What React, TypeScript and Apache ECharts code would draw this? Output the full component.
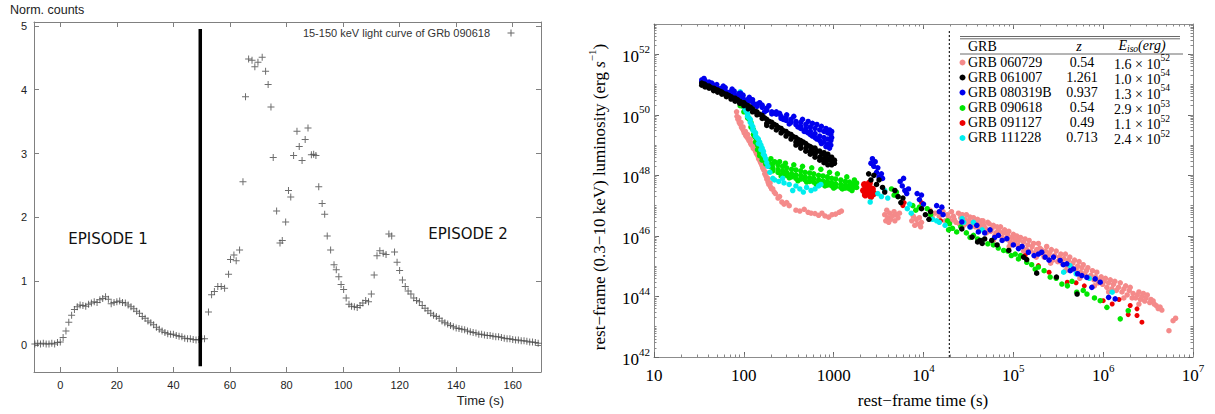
import React, { useEffect, useRef } from "react";
import * as echarts from "echarts";

// ---------------- Left panel: 15-150 keV light curve of GRB 090618 ----------------
// [time (s), normalized counts]
const lightCurve: number[][] = [
  [-9, 0.02], [-8, 0.03], [-7, 0.02], [-6, 0.03], [-5, 0.02], [-4, 0.02], [-3, 0.03], [-2, 0.02], [-1, 0.04],
  [0, 0.05], [1, 0.12], [2, 0.22], [3, 0.36], [4, 0.47], [5, 0.56], [6, 0.6], [7, 0.63], [8, 0.62], [9, 0.61],
  [10, 0.64], [11, 0.66], [12, 0.68], [13, 0.67], [14, 0.71], [15, 0.73], [16, 0.76], [17, 0.72], [18, 0.65],
  [19, 0.67], [20, 0.68], [21, 0.69], [22, 0.67], [23, 0.66], [24, 0.63], [25, 0.6], [26, 0.57], [27, 0.53],
  [28, 0.5], [29, 0.45], [30, 0.42], [31, 0.38], [32, 0.35], [33, 0.32], [34, 0.28], [35, 0.25], [36, 0.22],
  [37, 0.2], [38, 0.18], [39, 0.17], [40, 0.17], [41, 0.15], [42, 0.14], [43, 0.13], [44, 0.11], [45, 0.1],
  [46, 0.1], [47, 0.09], [48, 0.08], [49, 0.09], [50, 0.1], [51, 0.1],
  [52.4, 0.52], [53.5, 0.79], [54.5, 0.84], [55.7, 0.92], [56.9, 0.92], [58.1, 0.89], [59.5, 1.11], [60.2, 1.34],
  [61.4, 1.41], [62.2, 1.32], [63.4, 1.49], [64.6, 2.56], [65.5, 3.89], [66.6, 4.48], [67.8, 4.46], [68.8, 4.36],
  [69.9, 4.43], [71.4, 4.51], [72.6, 4.29], [73.5, 4.08], [74.5, 3.73], [75.3, 2.94], [76.5, 2.1], [77.7, 1.6],
  [78.5, 1.64], [79.7, 1.93], [80.7, 2.42], [81.5, 2.32], [82.5, 2.97], [83.7, 3.35], [84.5, 3.11], [85.5, 2.89],
  [86.6, 3.22], [87.6, 3.4], [88.8, 2.98], [89.6, 2.99], [90.4, 2.97], [91.4, 2.48], [92.6, 2.22], [93.5, 2.05],
  [94.4, 1.71], [95.6, 1.49], [96.8, 1.26], [97.6, 1.18], [98.5, 1.07], [99.3, 0.95], [100.2, 0.87], [101.1, 0.74],
  [102.1, 0.64], [103, 0.61], [104, 0.6], [105, 0.59], [106, 0.62], [107, 0.66], [108, 0.7], [109, 0.68],
  [110, 0.8], [111, 1.1], [112, 1.4], [113, 1.48], [114.2, 1.44], [115.2, 1.42], [116.2, 1.74], [117.2, 1.71],
  [118.2, 1.46], [119.1, 1.3], [120, 1.17], [121, 1.02], [122, 0.92], [123, 0.85], [124, 0.8], [125, 0.74],
  [126, 0.7], [127, 0.68], [128, 0.62], [129, 0.58], [130, 0.54], [131, 0.5], [132, 0.47], [133, 0.45],
  [134, 0.42], [135, 0.38], [136, 0.35], [137, 0.33], [138, 0.31], [139, 0.29], [140, 0.27], [141, 0.26],
  [142, 0.25], [143, 0.24], [144, 0.22], [145, 0.21], [146, 0.2], [147, 0.19], [148, 0.17], [149, 0.17],
  [150, 0.16], [151, 0.15], [152, 0.15], [153, 0.14], [154, 0.13], [155, 0.13], [156, 0.12], [157, 0.11],
  [158, 0.1], [159, 0.1], [160, 0.09], [161, 0.08], [162, 0.08], [163, 0.07], [164, 0.07], [165, 0.06],
  [166, 0.05], [167, 0.05], [168, 0.04], [169, 0.03],
];
const lcXTicks = [0, 20, 40, 60, 80, 100, 120, 140, 160];
const lcYTicks = [0, 1, 2, 3, 4, 5];
const lcXRange = [-9.3, 170];
const lcYRange = [-0.42, 5.06];
const episodeBoundary = 49.5;
const boundaryExtent = [-0.33, 4.95];

// ---------------- Right panel: rest-frame X-ray luminosity ----------------
// [rest-frame time (s), log10 luminosity (erg/s)]
const grb060729: number[][] = [
  [83, 50.1], [84, 49.95], [86, 49.85], [88, 49.9], [89, 49.75], [91, 49.7], [93, 49.75], [94, 49.6], [96, 49.55],
  [98, 49.6], [99, 49.48], [101, 49.4], [104, 49.45], [105, 49.32], [107, 49.28], [110, 49.35], [111, 49.22],
  [114, 49.15], [118, 49.2], [119, 49.05], [122, 49.0], [126, 49.05], [127, 48.9], [130, 48.88], [134, 48.95],
  [135, 48.8], [138, 48.72], [142, 48.8], [143, 48.65], [146, 48.55], [150, 48.6], [151, 48.48], [154, 48.42],
  [158, 48.45], [159, 48.33], [162, 48.25], [166, 48.3], [167, 48.18], [171, 48.05], [175, 48.1], [176, 47.98],
  [180, 47.88], [185, 47.9], [186, 47.78], [190, 47.7], [196, 47.75], [198, 47.62], [204, 47.55], [210, 47.55],
  [218, 47.45], [225, 47.4], [240, 47.25], [250, 47.3],
  [265, 47.12], [280, 47.05], [300, 47.1], [320, 47.0], [380, 46.85], [420, 46.82], [470, 46.88],
  [520, 46.78], [560, 46.75], [620, 46.74], [680, 46.68], [740, 46.75], [800, 46.66], [880, 46.62], [960, 46.7],
  [1050, 46.72], [1150, 46.78], [1220, 46.82],
  [3700, 46.7], [3800, 46.5], [3900, 46.85], [4000, 46.6], [4100, 46.45], [4200, 46.75], [4300, 46.55], [4500, 46.65],
  [4700, 46.8], [4800, 46.5], [5000, 46.7], [5200, 46.6], [5400, 46.75],
  [7400, 46.5], [7700, 46.65], [8000, 46.35], [8300, 46.55], [8600, 46.4], [9000, 46.6], [9300, 46.3], [9500, 46.45],
  [11800, 46.85], [12500, 46.6], [13500, 46.75], [15000, 46.65], [16500, 46.8], [17500, 46.5], [18500, 46.7],
  [19000, 46.6], [20000, 46.5], [20500, 46.8], [21500, 46.65], [22000, 46.55], [23000, 46.45], [24500, 46.75],
  [25000, 46.4], [26000, 46.6], [27000, 46.7], [28000, 46.35], [29000, 46.55], [30000, 46.7], [31000, 46.4],
  [32000, 46.5], [33000, 46.62], [34000, 46.3], [35000, 46.45], [36000, 46.6], [38000, 46.3], [39000, 46.45],
  [40000, 46.55], [42000, 46.2], [43000, 46.35], [44000, 46.5], [46000, 46.5], [47000, 46.35], [49000, 46.25],
  [50000, 46.1], [52000, 46.45], [54000, 46.4], [56000, 46.15], [58000, 46.25], [60000, 46.35], [60000, 45.85],
  [62000, 46.0], [64000, 46.1], [66000, 46.3], [68000, 46.2], [70000, 46.15], [72000, 46.3], [75000, 45.95],
  [78000, 46.1], [80000, 46.2], [83000, 45.9], [86000, 46.05], [89000, 46.15], [90000, 45.65], [92000, 45.8],
  [96000, 45.95], [100000, 46.05], [103000, 45.8], [106000, 45.9], [109000, 46.0], [112000, 45.7], [116000, 45.85],
  [120000, 45.95], [125000, 45.65], [130000, 45.8], [130000, 45.5], [135000, 45.9], [140000, 45.55], [145000, 45.7],
  [150000, 45.85], [156000, 45.5], [162000, 45.65], [168000, 45.75], [175000, 45.45], [180000, 45.3],
  [182000, 45.55], [190000, 45.75], [197000, 45.6], [205000, 45.55], [212000, 45.4], [220000, 45.3],
  [228000, 45.5], [235000, 45.65], [245000, 45.35], [255000, 45.45], [260000, 45.1], [265000, 45.55],
  [275000, 45.2], [288000, 45.35], [300000, 45.5], [312000, 45.15], [325000, 45.3], [338000, 45.4], [350000, 45.1],
  [365000, 45.25], [380000, 45.4], [380000, 44.85], [395000, 45.0], [410000, 45.2], [425000, 45.3],
  [440000, 44.95], [460000, 45.1], [480000, 45.2], [500000, 44.9], [520000, 45.0], [540000, 45.15], [550000, 44.6],
  [560000, 44.8], [580000, 44.95], [600000, 45.05], [625000, 44.75], [650000, 44.85], [675000, 44.95],
  [700000, 44.65], [730000, 44.7], [760000, 44.85], [790000, 44.55], [800000, 44.35], [820000, 44.65],
  [850000, 44.8], [880000, 44.45], [915000, 44.55], [950000, 44.65], [985000, 44.4], [1020000, 44.5],
  [1060000, 44.6], [1100000, 44.3], [1150000, 44.45], [1150000, 44.15], [1200000, 44.55], [1250000, 44.25],
  [1300000, 44.4], [1350000, 44.5], [1400000, 44.2], [1480000, 44.3], [1550000, 44.45], [1620000, 44.15],
  [1700000, 44.25], [1700000, 43.95], [1780000, 44.35], [1850000, 44.05], [1950000, 44.2], [2000000, 44.3],
  [2100000, 43.95], [2150000, 44.1], [2300000, 43.95], [2400000, 44.05], [2500000, 44.15], [2500000, 43.75],
  [2600000, 43.9], [2700000, 44.0], [2800000, 44.1], [2900000, 43.85], [3000000, 43.95], [3100000, 44.05],
  [3300000, 43.8], [3400000, 43.9], [3600000, 43.85], [3700000, 43.75], [3900000, 43.7], [4100000, 43.6],
  [4300000, 43.65], [4500000, 43.55], [5400000, 42.87], [6000000, 43.2], [6400000, 43.28],
];
const grb061007: number[][] = [
  [34, 51.05], [34, 50.98], [36, 51.02], [37, 51.0], [37, 50.92], [39, 50.95], [41, 50.95], [41, 50.88], [43, 50.9],
  [46, 50.88], [46, 50.8], [48, 50.85], [51, 50.82], [51, 50.75], [54, 50.78], [57, 50.75], [57, 50.68], [60, 50.7],
  [64, 50.68], [64, 50.6], [68, 50.64], [72, 50.6], [72, 50.52], [76, 50.55], [80, 50.55], [80, 50.45], [85, 50.5],
  [90, 50.45], [90, 50.38], [95, 50.4], [100, 50.4], [100, 50.3], [106, 50.33], [112, 50.3], [112, 50.2],
  [118, 50.25], [125, 50.2], [125, 50.1], [132, 50.12], [140, 50.1], [140, 50.0], [150, 50.02], [160, 49.98],
  [160, 49.88], [170, 49.9], [180, 49.85], [180, 49.72], [180, 49.65], [192, 49.78], [205, 49.75], [205, 49.6],
  [218, 49.68], [230, 49.65], [230, 49.5], [245, 49.58], [260, 49.55], [260, 49.4], [278, 49.47], [295, 49.45],
  [295, 49.3], [315, 49.38], [335, 49.35], [335, 49.2], [355, 49.28], [380, 49.25], [380, 49.1], [380, 49.0],
  [400, 49.05], [405, 49.18], [430, 49.15], [430, 49.0], [430, 48.9], [460, 49.1], [490, 49.05], [490, 48.9],
  [490, 48.8], [520, 48.98], [550, 48.95], [550, 48.8], [550, 48.7], [585, 48.9], [600, 48.75], [620, 48.9],
  [620, 48.7], [620, 48.6], [660, 48.8], [700, 48.8], [700, 48.6], [700, 48.5], [740, 48.7], [780, 48.75],
  [780, 48.55], [780, 48.42], [800, 48.45], [820, 48.62], [860, 48.7], [860, 48.5], [860, 48.35], [900, 48.55],
  [950, 48.6], [950, 48.45], [950, 48.35], [980, 48.5], [1000, 48.4], [1020, 48.5], [1020, 48.4],
  [2450, 48.05], [2600, 47.85], [2800, 48.0], [3000, 47.7], [3200, 47.85], [3500, 47.6], [3700, 47.45],
  [4800, 47.5], [5200, 47.3], [5600, 47.1], [5900, 47.25], [9500, 46.9], [10500, 46.7], [11500, 46.55], [12000, 46.8],
  [26700, 46.23], [34700, 45.96], [40000, 45.8], [42700, 45.85], [45000, 45.75], [48000, 45.9], [57500, 45.85],
  [66000, 45.7], [89000, 45.52], [130000, 45.3], [141000, 45.22], [182000, 44.77], [302000, 44.64], [513000, 44.08],
];
const grb080319B: number[][] = [
  [34, 51.15], [34, 51.08], [36, 51.2], [37, 51.05], [37, 51.13], [39, 51.0], [41, 51.0], [41, 51.08], [44, 51.05],
  [46, 50.98], [46, 50.92], [50, 50.9], [50, 51.0], [53, 50.85], [56, 50.87], [56, 50.8], [59, 50.95], [62, 50.8],
  [62, 50.9], [66, 50.72], [70, 50.75], [70, 50.7], [74, 50.85], [78, 50.68], [78, 50.78], [83, 50.6], [88, 50.62],
  [88, 50.7], [92, 50.72], [98, 50.55], [98, 50.65], [105, 50.45], [110, 50.5], [110, 50.44], [115, 50.58],
  [125, 50.42], [125, 50.5], [130, 50.35], [140, 50.35], [140, 50.28], [150, 50.4], [160, 50.25], [160, 50.32],
  [170, 50.1], [180, 50.15], [180, 50.22], [190, 50.3], [205, 50.1], [205, 50.03], [230, 50.02], [230, 50.1],
  [250, 50.05], [260, 49.95], [260, 49.88], [275, 49.85], [295, 49.9], [295, 49.82], [300, 50.0], [320, 49.7],
  [335, 49.85], [335, 49.75], [360, 49.95], [380, 49.78], [380, 49.68], [400, 49.6], [430, 49.75], [430, 49.62],
  [430, 49.55], [450, 49.85], [470, 49.45], [490, 49.68], [490, 49.55], [490, 49.45], [520, 49.78], [520, 49.4],
  [550, 49.6], [550, 49.45], [550, 49.35], [580, 49.72], [580, 49.3], [620, 49.55], [620, 49.38], [620, 49.25],
  [650, 49.68], [650, 49.2], [700, 49.5], [700, 49.3], [700, 49.15], [730, 49.62], [730, 49.05], [780, 49.45],
  [780, 49.25], [780, 49.1], [820, 49.55], [820, 48.95], [860, 49.4], [860, 49.2], [860, 49.02], [900, 49.5],
  [900, 48.9], [930, 49.35], [930, 49.15], [930, 49.0], [950, 49.45], [950, 49.25],
  [2600, 48.4], [2700, 48.55], [2800, 48.3], [2900, 48.45], [3000, 48.1], [3100, 48.25], [3200, 47.95], [3400, 48.05],
  [3500, 47.9], [5500, 47.8], [5800, 47.65], [6000, 47.9], [6200, 47.5], [6500, 47.4], [6800, 47.55],
  [8500, 47.4], [9000, 47.2], [9500, 47.35], [10000, 47.05], [14000, 47.0], [15000, 46.8], [16000, 46.95], [16500, 46.7],
  [26700, 46.46], [33000, 46.3], [39200, 46.35], [40800, 46.13], [48000, 46.1], [55000, 46.2], [62000, 45.95],
  [68200, 46.02], [75000, 45.85], [84700, 45.91], [100000, 45.7], [114000, 45.58], [125000, 45.65], [147000, 45.46],
  [170000, 45.35], [190000, 45.4], [207000, 45.46], [226000, 45.3], [250000, 45.2], [280000, 45.3], [332000, 45.19],
  [360000, 45.05], [394000, 45.08], [430000, 44.85], [467000, 44.91], [520000, 44.75], [579000, 44.69],
  [658000, 44.63], [748000, 44.3], [815000, 44.58], [927000, 44.47], [1150000, 43.97], [1360000, 43.92],
];
const grb090618: number[][] = [
  [91, 50.45], [91, 50.3], [100, 50.25], [100, 50.1], [105, 50.2], [110, 50.0], [110, 49.9], [115, 49.85],
  [120, 49.75], [120, 49.6], [124, 49.55], [128, 49.5], [128, 49.35], [132, 49.3], [135, 49.25], [135, 49.1],
  [138, 49.15], [142, 49.0], [142, 48.85], [146, 48.9], [150, 48.75], [150, 48.65], [155, 48.72], [160, 48.6],
  [160, 48.5], [167, 48.55], [175, 48.5], [175, 48.38], [182, 48.45], [190, 48.45], [190, 48.3], [200, 48.55],
  [210, 48.38], [210, 48.25], [210, 48.15], [220, 48.45], [240, 48.35], [240, 48.2], [240, 48.1], [250, 48.45],
  [260, 47.98], [270, 48.3], [270, 48.15], [270, 48.05], [290, 48.4], [300, 48.25], [300, 48.1], [300, 48.0],
  [320, 47.92], [340, 48.2], [340, 48.05], [340, 47.95], [360, 48.35], [380, 48.18], [380, 48.02], [380, 47.9],
  [400, 47.82], [430, 48.15], [430, 48.0], [430, 47.88], [450, 48.3], [480, 48.1], [480, 47.95], [480, 47.85],
  [500, 47.78], [540, 48.08], [540, 47.92], [540, 47.8], [570, 48.25], [600, 48.05], [600, 47.9], [600, 47.78],
  [640, 47.7], [680, 48.0], [680, 47.85], [680, 47.75], [720, 48.2], [760, 47.98], [760, 47.82], [760, 47.72],
  [800, 47.65], [850, 47.95], [850, 47.8], [850, 47.68], [900, 48.1], [950, 47.9], [950, 47.75], [950, 47.65],
  [1000, 47.58], [1050, 47.88], [1050, 47.72], [1050, 47.62], [1100, 48.05], [1200, 47.85], [1200, 47.7],
  [1200, 47.6], [1250, 47.55], [1350, 47.8], [1350, 47.68], [1350, 47.58], [1400, 47.95], [1500, 47.78],
  [1500, 47.65], [1500, 47.55], [1600, 47.5], [1650, 47.72], [1650, 47.6], [1700, 47.85], [1750, 47.7],
  [1750, 47.62], [1800, 47.6], [1800, 47.75],
  [4400, 47.55], [4700, 47.35], [5000, 47.45], [5200, 47.3], [7600, 47.0], [8200, 46.85], [9000, 46.95],
  [11000, 46.9], [12000, 46.7], [18500, 46.5], [19000, 46.2], [19500, 46.4],
  [21000, 46.25], [23400, 46.13], [26000, 46.3], [30000, 46.1], [33000, 45.95], [36000, 46.02], [40000, 45.9],
  [45000, 45.85], [52000, 45.74], [60000, 45.7], [68000, 45.6], [78000, 45.52], [87000, 45.5], [95000, 45.35],
  [105000, 45.4], [114000, 45.24], [120000, 45.35], [141000, 45.13], [160000, 45.05], [175000, 44.9],
  [190000, 44.97], [220000, 44.85], [257000, 44.64], [300000, 44.6], [347000, 44.41], [400000, 44.35],
  [450000, 44.5], [508000, 44.14], [600000, 44.2], [660000, 44.08], [800000, 43.95], [927000, 43.86],
  [1100000, 43.64], [1550000, 43.26], [1900000, 43.53],
];
const grb091127: number[][] = [
  [2150, 47.5], [2200, 47.7], [2250, 47.35], [2300, 47.6], [2350, 47.55], [2400, 47.45], [2450, 47.62], [2500, 47.75],
  [2600, 47.3], [2700, 47.55], [2800, 47.4],
  [5900, 47.0], [6100, 47.1], [9500, 47.1], [15500, 46.5],
  [135000, 45.35], [190000, 45.02], [250000, 44.8], [398000, 44.47], [500000, 44.45], [617000, 44.35],
  [1000000, 43.86], [1260000, 43.75], [1500000, 43.9], [1900000, 43.4], [2000000, 43.7], [2380000, 43.59],
  [2380000, 43.37], [2700000, 43.15],
];
const grb111228: number[][] = [
  [91, 50.76], [91, 50.6], [94, 50.55], [97, 50.5], [97, 50.4], [100, 50.35], [103, 50.3], [103, 50.2], [106, 50.12],
  [110, 50.05], [110, 49.95], [114, 49.9], [118, 49.85], [118, 49.75], [122, 49.68], [126, 49.6], [126, 49.5],
  [130, 49.45], [135, 49.4], [135, 49.3], [140, 49.25], [145, 49.2], [145, 49.05], [150, 49.1], [155, 49.0],
  [155, 48.85], [160, 48.9], [165, 48.8], [165, 48.7], [170, 48.65], [175, 48.55], [180, 48.42], [185, 48.3],
  [195, 48.1],
  [210, 47.9], [220, 47.85], [245, 47.8], [270, 47.9], [280, 47.75], [320, 47.7], [350, 47.5], [380, 47.65],
  [420, 47.55], [460, 47.45], [500, 47.6], [560, 47.5], [620, 47.55], [680, 47.65], [720, 47.7],
  [2550, 47.12], [3100, 47.4], [3400, 47.3], [3700, 47.5], [4000, 47.25], [6600, 46.9], [7000, 47.05], [7300, 46.75],
  [12600, 46.55], [14000, 46.5], [15000, 46.45], [17400, 46.35],
  [26900, 46.57], [28000, 46.45], [33000, 46.29], [36000, 46.45], [45000, 46.2], [363000, 44.8], [427000, 45.02],
  [500000, 44.75], [700000, 44.6], [1260000, 44.14],
];

const grbNames = ["GRB 060729", "GRB 061007", "GRB 080319B", "GRB 090618", "GRB 091127", "GRB 111228"];
const grbRedshift = ["0.54", "1.261", "0.937", "0.54", "0.49", "0.713"];
const grbEisoMantissa = ["1.6", "1.0", "1.3", "2.9", "1.1", "2.4"];
const grbEisoExponent = ["52", "54", "54", "53", "52", "52"];
const grbSeries = [grb060729, grb061007, grb080319B, grb090618, grb091127, grb111228];
const grbColors = ["#f48a8a", "#000000", "#0000ee", "#00e600", "#ee0000", "#00eeee"];
const drawOrder = [0, 4, 3, 5, 2, 1];

const lumXTicksExp = [1, 2, 3, 4, 5, 6, 7];
const lumYTicksExp = [42, 44, 46, 48, 50, 52];
const lumXRangeExp = [1, 7];
const lumYRangeExp = [42, 53];
const transitionTime = 19400; // dotted line (s)

const SANS = "'Liberation Sans', Arial, sans-serif";
const SERIF = "'Liberation Serif', 'Times New Roman', serif";

const LEFT_GRID = { left: 34, top: 22, width: 507, height: 350 };
const RIGHT_GRID = { left: 654, top: 24, width: 539, height: 333 };

const minorLogTicks = (from: number, to: number) => {
  const out: number[] = [];
  for (let k = from; k < to; k++) {
    for (let m = 2; m <= 10; m++) out.push(k + Math.log10(m));
  }
  return out;
};

export default function App() {
  const ref = useRef<HTMLDivElement>(null);

  useEffect(() => {
    document.body.style.margin = "0";
    const chart = echarts.init(ref.current!, null, { renderer: "svg" });

    const gray = "#808080";
    const minorX = minorLogTicks(lumXRangeExp[0], lumXRangeExp[1]);
    const minorY = minorLogTicks(lumYRangeExp[0], lumYRangeExp[1]).filter((v) => v <= lumYRangeExp[1] + 1e-9);

    const supRich = {
      b: { fontFamily: SERIF, fontSize: 17, color: "#000", verticalAlign: "bottom", lineHeight: 22 },
      s: { fontFamily: SERIF, fontSize: 11, color: "#000", verticalAlign: "top", lineHeight: 12 },
    };

    const leftAxisCommon = {
      type: "value",
      gridIndex: 0,
      splitLine: { show: false },
      axisLine: { show: true, onZero: false, lineStyle: { color: gray, width: 1 } },
    };
    const rightAxisCommon = {
      type: "value",
      gridIndex: 1,
      splitLine: { show: false },
      axisLine: { show: true, onZero: false, lineStyle: { color: "#8c8c8c", width: 1 } },
    };
    const minorAxisCommon = {
      type: "value",
      gridIndex: 2,
      splitLine: { show: false },
      axisLine: { show: false, onZero: false },
      axisLabel: { show: false },
    };

    const xLabelFmt = (v: number) => (v <= 3 ? `{b|${Math.round(Math.pow(10, v))}}` : `{b|10}{s|${v}}`);
    const yLabelFmt = (v: number) => `{b|10}{s|${v}}`;

    const rightSeries = drawOrder.map((i) => ({
      type: "scatter",
      name: grbNames[i],
      xAxisIndex: 2,
      yAxisIndex: 2,
      symbol: "circle",
      symbolSize: i === 4 ? (val: number[]) => (val[0] < 3.5 ? 7 : 5) : 5.5,
      itemStyle: { color: grbColors[i], opacity: 1 },
      data: grbSeries[i].map(([t, e]) => [Math.log10(t), e]),
      z: 3,
    }));

    const tableX = 960;
    const rowY = [62, 77, 92, 107.5, 122.5, 137.5];
    const tableGraphics: any[] = [
      { type: "line", shape: { x1: tableX, y1: 36.5, x2: 1180, y2: 36.5 }, style: { stroke: "#444", lineWidth: 0.8 } },
      { type: "line", shape: { x1: tableX, y1: 38.8, x2: 1180, y2: 38.8 }, style: { stroke: "#444", lineWidth: 0.8 } },
      { type: "line", shape: { x1: tableX, y1: 54, x2: 1183, y2: 54 }, style: { stroke: "#444", lineWidth: 0.8 } },
      {
        type: "text", x: 968, y: 46,
        style: { text: "GRB", fontFamily: SERIF, fontSize: 14, fill: "#000", align: "left", verticalAlign: "middle", textAlign: "left", textVerticalAlign: "middle" },
      },
      {
        type: "text", x: 1079, y: 46,
        style: { text: "z", fontFamily: SERIF, fontSize: 14, fontStyle: "italic", fill: "#000", align: "center", verticalAlign: "middle", textAlign: "center", textVerticalAlign: "middle" },
      },
      {
        type: "text", x: 1142, y: 46,
        style: {
          text: "{i|E}{u|iso}{i|(erg)}",
          align: "center", verticalAlign: "middle", textAlign: "center", textVerticalAlign: "middle",
          rich: {
            i: { fontFamily: SERIF, fontSize: 14, fontStyle: "italic", fill: "#000", color: "#000", verticalAlign: "top", lineHeight: 16 },
            u: { fontFamily: SERIF, fontSize: 9.5, fontStyle: "italic", fill: "#000", color: "#000", verticalAlign: "bottom", lineHeight: 10 },
          },
        },
      },
    ];
    grbNames.forEach((name, i) => {
      const y = rowY[i];
      tableGraphics.push(
        { type: "circle", shape: { cx: 962.5, cy: y + 0.5, r: 3 }, style: { fill: grbColors[i] } },
        {
          type: "text", x: 968, y,
          style: { text: name, fontFamily: SERIF, fontSize: 14, fill: "#000", align: "left", verticalAlign: "middle", textAlign: "left", textVerticalAlign: "middle" },
        },
        {
          type: "text", x: 1082, y,
          style: { text: grbRedshift[i], fontFamily: SERIF, fontSize: 14, fill: "#000", align: "center", verticalAlign: "middle", textAlign: "center", textVerticalAlign: "middle" },
        },
        {
          type: "text", x: 1114, y,
          style: {
            text: `{n|${grbEisoMantissa[i]} × 10}{p|${grbEisoExponent[i]}}`,
            align: "left", verticalAlign: "middle", textAlign: "left", textVerticalAlign: "middle",
            rich: {
              n: { fontFamily: SERIF, fontSize: 14, fill: "#000", color: "#000", verticalAlign: "bottom", lineHeight: 18 },
              p: { fontFamily: SERIF, fontSize: 9.5, fill: "#000", color: "#000", verticalAlign: "top", lineHeight: 10 },
            },
          },
        }
      );
    });

    const option: any = {
      animation: false,
      backgroundColor: "#ffffff",
      grid: [
        { ...LEFT_GRID, containLabel: false },
        { ...RIGHT_GRID, containLabel: false },
        { ...RIGHT_GRID, containLabel: false },
      ],
      xAxis: [
        {
          ...leftAxisCommon, position: "bottom", min: lcXRange[0], max: lcXRange[1],
          axisTick: { show: true, inside: true, length: 5, customValues: lcXTicks, lineStyle: { color: gray } },
          axisLabel: { show: true, customValues: lcXTicks, color: "#222", fontFamily: SANS, fontSize: 11, margin: 7 },
        },
        {
          ...leftAxisCommon, position: "top", min: lcXRange[0], max: lcXRange[1],
          axisTick: { show: true, inside: true, length: 5, customValues: lcXTicks, lineStyle: { color: gray } },
          axisLabel: { show: false },
        },
        {
          ...rightAxisCommon, position: "bottom", min: lumXRangeExp[0], max: lumXRangeExp[1],
          axisTick: { show: true, inside: true, length: 5, customValues: lumXTicksExp, lineStyle: { color: "#666" } },
          axisLabel: { show: true, customValues: lumXTicksExp, formatter: xLabelFmt, rich: supRich, margin: 5 },
        },
        {
          ...rightAxisCommon, position: "top", min: lumXRangeExp[0], max: lumXRangeExp[1],
          axisTick: { show: true, inside: true, length: 5, customValues: lumXTicksExp, lineStyle: { color: "#666" } },
          axisLabel: { show: false },
        },
        {
          ...minorAxisCommon, position: "bottom", min: lumXRangeExp[0], max: lumXRangeExp[1],
          axisTick: { show: true, inside: true, length: 2.5, customValues: minorX, lineStyle: { color: "#888" } },
        },
        {
          ...minorAxisCommon, position: "top", min: lumXRangeExp[0], max: lumXRangeExp[1],
          axisTick: { show: true, inside: true, length: 2.5, customValues: minorX, lineStyle: { color: "#888" } },
        },
      ],
      yAxis: [
        {
          ...leftAxisCommon, position: "left", min: lcYRange[0], max: lcYRange[1],
          axisTick: { show: true, inside: true, length: 5, customValues: lcYTicks, lineStyle: { color: gray } },
          axisLabel: { show: true, customValues: lcYTicks, color: "#222", fontFamily: SANS, fontSize: 11, margin: 7 },
        },
        {
          ...leftAxisCommon, position: "right", min: lcYRange[0], max: lcYRange[1],
          axisTick: { show: true, inside: true, length: 5, customValues: lcYTicks, lineStyle: { color: gray } },
          axisLabel: { show: false },
        },
        {
          ...rightAxisCommon, position: "left", min: lumYRangeExp[0], max: lumYRangeExp[1],
          axisTick: { show: true, inside: true, length: 5, customValues: lumYTicksExp, lineStyle: { color: "#666" } },
          axisLabel: { show: true, customValues: lumYTicksExp, formatter: yLabelFmt, rich: supRich, margin: 4 },
        },
        {
          ...rightAxisCommon, position: "right", min: lumYRangeExp[0], max: lumYRangeExp[1],
          axisTick: { show: true, inside: true, length: 5, customValues: lumYTicksExp, lineStyle: { color: "#666" } },
          axisLabel: { show: false },
        },
        {
          ...minorAxisCommon, position: "left", min: lumYRangeExp[0], max: lumYRangeExp[1],
          axisTick: { show: true, inside: true, length: 2.5, customValues: minorY, lineStyle: { color: "#888" } },
        },
        {
          ...minorAxisCommon, position: "right", min: lumYRangeExp[0], max: lumYRangeExp[1],
          axisTick: { show: true, inside: true, length: 2.5, customValues: minorY, lineStyle: { color: "#888" } },
        },
      ],
      series: [
        {
          type: "scatter",
          name: "15-150 keV light curve of GRb 090618",
          xAxisIndex: 0,
          yAxisIndex: 0,
          symbol: "path://M3,0h1v3h3v1h-3v3h-1v-3h-3v-1h3z",
          symbolSize: 7,
          itemStyle: { color: "#4a4a4a" },
          data: lightCurve,
        },
        {
          type: "line",
          name: "episode boundary",
          xAxisIndex: 0,
          yAxisIndex: 0,
          symbol: "none",
          lineStyle: { color: "#000", width: 3.5 },
          data: [
            [episodeBoundary, boundaryExtent[0]],
            [episodeBoundary, boundaryExtent[1]],
          ],
          z: 4,
        },
        ...rightSeries,
        {
          type: "line",
          name: "transition",
          xAxisIndex: 2,
          yAxisIndex: 2,
          symbol: "none",
          lineStyle: { color: "#222", width: 1.2, type: [2, 2] },
          data: [
            [Math.log10(transitionTime), lumYRangeExp[0]],
            [Math.log10(transitionTime), 52.8],
          ],
          z: 2,
        },
      ],
      graphic: [
        {
          type: "text", x: 10, y: 10,
          style: { text: "Norm. counts", fontFamily: SANS, fontSize: 12.5, fill: "#222", align: "left", verticalAlign: "middle", textAlign: "left", textVerticalAlign: "middle" },
        },
        {
          type: "text", x: 504, y: 400,
          style: { text: "Time (s)", fontFamily: SANS, fontSize: 13, fill: "#222", align: "right", verticalAlign: "middle", textAlign: "right", textVerticalAlign: "middle" },
        },
        {
          type: "text", x: 490, y: 33,
          style: { text: "15-150 keV light curve of GRb 090618", fontFamily: SANS, fontSize: 11, fill: "#333", align: "right", verticalAlign: "middle", textAlign: "right", textVerticalAlign: "middle" },
        },
        { type: "line", shape: { x1: 507.5, y1: 33, x2: 514.5, y2: 33 }, style: { stroke: "#666", lineWidth: 1 } },
        { type: "line", shape: { x1: 511, y1: 29.5, x2: 511, y2: 36.5 }, style: { stroke: "#666", lineWidth: 1 } },
        {
          type: "text", x: 108, y: 239,
          style: { text: "EPISODE 1", fontFamily: "'DejaVu Sans', sans-serif", fontSize: 15, fill: "#111", align: "center", verticalAlign: "middle", textAlign: "center", textVerticalAlign: "middle" },
        },
        {
          type: "text", x: 468, y: 234,
          style: { text: "EPISODE 2", fontFamily: "'DejaVu Sans', sans-serif", fontSize: 15, fill: "#111", align: "center", verticalAlign: "middle", textAlign: "center", textVerticalAlign: "middle" },
        },
        {
          type: "text", x: 923, y: 400,
          style: { text: "rest−frame time (s)", fontFamily: SERIF, fontSize: 17, fill: "#000", align: "center", verticalAlign: "middle", textAlign: "center", textVerticalAlign: "middle" },
        },
        {
          type: "text", x: 597, y: 197, rotation: Math.PI / 2,
          style: {
            text: "{n|rest−frame (0.3−10 keV) luminosity (erg }{i|s}{p|−1}{n|)}",
            align: "center", verticalAlign: "middle", textAlign: "center", textVerticalAlign: "middle",
            rich: {
              n: { fontFamily: SERIF, fontSize: 17, fill: "#000", color: "#000", verticalAlign: "bottom", lineHeight: 22 },
              i: { fontFamily: SERIF, fontSize: 17, fontStyle: "italic", fill: "#000", color: "#000", verticalAlign: "bottom", lineHeight: 22 },
              p: { fontFamily: SERIF, fontSize: 11, fill: "#000", color: "#000", verticalAlign: "top", lineHeight: 12 },
            },
          },
        },
        ...tableGraphics,
      ],
    };

    chart.setOption(option);
    return () => chart.dispose();
  }, []);

  return <div ref={ref} style={{ width: 1215, height: 414 }} />;
}
